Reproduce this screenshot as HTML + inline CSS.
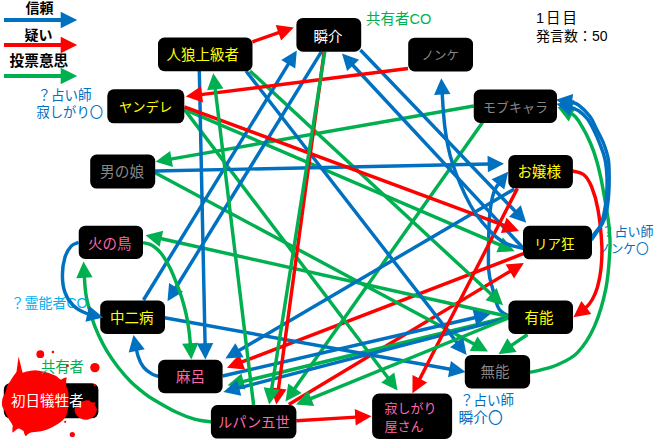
<!DOCTYPE html>
<html lang="ja"><head><meta charset="utf-8"><title>1日目 関係図（信頼・疑い・投票意思）</title>
<style>html,body{margin:0;padding:0;background:#fff;font-family:"Liberation Sans",sans-serif}body{width:660px;height:441px;overflow:hidden}svg text{font-family:"Liberation Sans","Noto Sans CJK JP",sans-serif}</style>
</head><body>
<svg width="660" height="441" viewBox="0 0 660 441" style="display:block" role="img" aria-label="人狼ゲーム1日目の関係図: 信頼(青) 疑い(赤) 投票意思(緑) 発言数50">
<rect width="660" height="441" fill="#fff"/>
<text x="25.5" y="13" font-size="14" font-weight="bold" fill="#000">信頼</text>
<text x="24.5" y="39.5" font-size="14" font-weight="bold" fill="#000">疑い</text>
<text x="9.5" y="66" font-size="14.7" font-weight="bold" fill="#000">投票意思</text>
<text x="37.5" y="100" font-size="13.5" fill="#0070C0">？占い師</text>
<text x="36.5" y="117" font-size="13.3" fill="#0070C0">寂しがり〇</text>
<text x="601.5" y="235.8" font-size="13" fill="#0070C0">？占い師</text>
<text x="598" y="253" font-size="12.7" fill="#0070C0">ノンケ〇</text>
<text x="460" y="404.8" font-size="13.5" fill="#0070C0">？占い師</text>
<text x="458.5" y="422.5" font-size="14.7" fill="#0070C0">瞬介〇</text>
<text x="366" y="24" font-size="14.5" fill="#00B050">共有者CO</text>
<text x="536" y="23" font-size="14.5" letter-spacing="2" fill="#000">1日目</text>
<text x="536" y="41" font-size="14" fill="#000">発言数：50</text>
<line x1="4" y1="20" x2="61.7" y2="20" stroke="#0070C0" stroke-width="4"/>
<polygon points="77.2,20 60.7,28.25 60.7,11.75" fill="#0070C0"/>
<line x1="4" y1="45" x2="61.7" y2="45" stroke="#FF0000" stroke-width="4"/>
<polygon points="77.2,45 60.7,53.25 60.7,36.75" fill="#FF0000"/>
<line x1="4" y1="76" x2="61.7" y2="76" stroke="#00B050" stroke-width="4"/>
<polygon points="77.2,76 60.7,84.25 60.7,67.75" fill="#00B050"/>
<path d="M508.5,316 C506.88,314.77 501.38,312.93 498.8,308.6 C496.22,304.27 494.68,296.43 493,290 C491.32,283.57 489.4,279.57 488.7,270 C488,260.43 488.52,242.8 488.8,232.6 C489.08,222.4 489.37,216 490.4,208.8 C491.43,201.6 492.03,195.57 495,189.4 C495.85,187.62 497.13,185.66 498.56,183.68" fill="none" stroke="#0070C0" stroke-width="3.45"/>
<polygon points="508.2,171.8 504.3,189.62 491.56,179.29" fill="#0070C0"/>
<line x1="523.3" y1="253.7" x2="241.28" y2="362.21" stroke="#FF0000" stroke-width="3.45"/>
<polygon points="227,367.7 239.27,354.19 245.16,369.5" fill="#FF0000"/>
<line x1="288.8" y1="404.6" x2="510.7" y2="270.9" stroke="#FF0000" stroke-width="3.45"/>
<polygon points="523.8,263 514.07,278.44 505.61,264.39" fill="#FF0000"/>
<line x1="184.4" y1="109.4" x2="500.54" y2="245.16" stroke="#00B050" stroke-width="3.45"/>
<polygon points="514.6,251.2 496.39,252.3 502.86,237.23" fill="#00B050"/>
<line x1="184.4" y1="109.4" x2="388.35" y2="378.31" stroke="#00B050" stroke-width="3.45"/>
<polygon points="397.6,390.5 381.22,382.47 394.28,372.56" fill="#00B050"/>
<line x1="473.75" y1="106" x2="170.57" y2="159.16" stroke="#00B050" stroke-width="3.45"/>
<polygon points="155.5,161.8 170.14,150.91 172.97,167.06" fill="#00B050"/>
<line x1="482.5" y1="122.5" x2="294.33" y2="389" stroke="#00B050" stroke-width="3.45"/>
<polygon points="285.5,401.5 288.2,383.46 301.6,392.91" fill="#00B050"/>
<line x1="250" y1="71" x2="491.77" y2="294.81" stroke="#00B050" stroke-width="3.45"/>
<polygon points="503,305.2 485.47,300.14 496.61,288.11" fill="#00B050"/>
<line x1="155.1" y1="172.7" x2="474.52" y2="344.26" stroke="#00B050" stroke-width="3.45"/>
<polygon points="488,351.5 469.76,351.01 477.52,336.56" fill="#00B050"/>
<line x1="508.5" y1="317" x2="242.47" y2="381.69" stroke="#00B050" stroke-width="3.45"/>
<polygon points="227.6,385.3 241.5,373.48 245.38,389.42" fill="#00B050"/>
<line x1="508.5" y1="316.5" x2="160.43" y2="238.54" stroke="#00B050" stroke-width="3.45"/>
<polygon points="145.5,235.2 163.2,230.76 159.61,246.76" fill="#00B050"/>
<line x1="527.5" y1="334.5" x2="511.14" y2="345.67" stroke="#00B050" stroke-width="3.45"/>
<polygon points="498.5,354.3 507.34,338.34 516.59,351.88" fill="#00B050"/>
<line x1="143.5" y1="300" x2="288.79" y2="63.44" stroke="#0070C0" stroke-width="3.45"/>
<polygon points="296.8,50.4 295.26,68.58 281.28,60" fill="#0070C0"/>
<line x1="321.5" y1="51.7" x2="175.53" y2="288.28" stroke="#0070C0" stroke-width="3.45"/>
<polygon points="167.5,301.3 169.08,283.12 183.04,291.73" fill="#0070C0"/>
<line x1="199.3" y1="71" x2="205.08" y2="344.2" stroke="#0070C0" stroke-width="3.45"/>
<polygon points="205.4,359.5 196.86,343.38 213.25,343.03" fill="#0070C0"/>
<line x1="246" y1="71" x2="457.21" y2="342.92" stroke="#0070C0" stroke-width="3.45"/>
<polygon points="466.6,355 450.13,347.16 463.08,337.1" fill="#0070C0"/>
<line x1="360.4" y1="50" x2="515.61" y2="211.76" stroke="#0070C0" stroke-width="3.45"/>
<polygon points="526.2,222.8 509,216.72 520.83,205.36" fill="#0070C0"/>
<line x1="523.5" y1="248.5" x2="352.42" y2="64.7" stroke="#0070C0" stroke-width="3.45"/>
<polygon points="342,53.5 359.11,59.84 347.1,71.02" fill="#0070C0"/>
<line x1="155.1" y1="171" x2="488.7" y2="164.02" stroke="#0070C0" stroke-width="3.45"/>
<polygon points="504,163.7 487.88,172.24 487.53,155.84" fill="#0070C0"/>
<line x1="514.4" y1="188.9" x2="238.6" y2="350.76" stroke="#0070C0" stroke-width="3.45"/>
<polygon points="225.4,358.5 235.31,343.18 243.61,357.32" fill="#0070C0"/>
<line x1="222.6" y1="376" x2="475.49" y2="317.45" stroke="#0070C0" stroke-width="3.45"/>
<polygon points="490.4,314 476.37,325.67 472.67,309.69" fill="#0070C0"/>
<line x1="508.5" y1="317.8" x2="238.21" y2="388.15" stroke="#0070C0" stroke-width="3.45"/>
<polygon points="223.4,392 237.11,379.96 241.24,395.83" fill="#0070C0"/>
<line x1="164.5" y1="317.8" x2="450.44" y2="369.29" stroke="#0070C0" stroke-width="3.45"/>
<polygon points="465.5,372 448,377.18 450.91,361.04" fill="#0070C0"/>
<line x1="252.5" y1="41.8" x2="279.35" y2="32.44" stroke="#FF0000" stroke-width="3.45"/>
<polygon points="293.8,27.4 281.11,40.51 275.71,25.02" fill="#FF0000"/>
<line x1="408" y1="68.5" x2="200.98" y2="94.59" stroke="#FF0000" stroke-width="3.45"/>
<polygon points="185.8,96.5 200.95,86.33 203,102.6" fill="#FF0000"/>
<line x1="184.4" y1="106.8" x2="504.66" y2="225.68" stroke="#FF0000" stroke-width="3.45"/>
<polygon points="519,231 500.87,233.02 506.57,217.64" fill="#FF0000"/>
<line x1="324.2" y1="51.7" x2="278.36" y2="389.44" stroke="#FF0000" stroke-width="3.45"/>
<polygon points="276.3,404.6 270.37,387.35 286.62,389.55" fill="#FF0000"/>
<line x1="324.8" y1="51.7" x2="271.58" y2="389.49" stroke="#00B050" stroke-width="3.45"/>
<polygon points="269.2,404.6 263.64,387.22 279.84,389.77" fill="#00B050"/>
<line x1="517.4" y1="188.4" x2="419.38" y2="379.68" stroke="#FF0000" stroke-width="3.45"/>
<polygon points="412.4,393.3 412.54,375.05 427.13,382.53" fill="#FF0000"/>
<line x1="296.3" y1="420.8" x2="356.23" y2="417.13" stroke="#FF0000" stroke-width="3.45"/>
<polygon points="371.5,416.2 355.73,425.38 354.73,409.01" fill="#FF0000"/>
<line x1="508.5" y1="318" x2="310.17" y2="398.83" stroke="#00B050" stroke-width="3.45"/>
<polygon points="296,404.6 308,390.85 314.19,406.04" fill="#00B050"/>
<line x1="253.6" y1="405" x2="215.14" y2="88.39" stroke="#00B050" stroke-width="3.45"/>
<polygon points="213.3,73.2 223.41,88.39 207.13,90.37" fill="#00B050"/>
<path d="M158.5,376.3 C157.52,375.98 155.1,375.92 152.6,374.4 C150.1,372.88 145.92,370.22 143.5,367.2 C141.08,364.18 139.77,361.67 138.1,356.3 C137.6,354.69 137.05,352.45 136.52,350" fill="none" stroke="#0070C0" stroke-width="3.45"/>
<polygon points="133.5,335 144.75,349.36 128.67,352.6" fill="#0070C0"/>
<path d="M143,242.6 C144.08,242.87 147.45,243.35 149.5,244.2 C151.55,245.05 153.42,246.23 155.3,247.7 C157.18,249.17 159.1,250.97 160.8,253 C162.5,255.03 163.83,257.15 165.5,259.9 C167.17,262.65 169.18,266.15 170.8,269.5 C172.42,272.85 173.42,275.42 175.2,280 C176.98,284.58 179.7,291.42 181.5,297 C183.3,302.58 184.78,308.17 186,313.5 C187.22,318.83 188.08,323.95 188.8,329 C189.52,334.05 189.88,338.72 190.3,343.8 C190.31,343.94 190.32,344.08 190.33,344.23" fill="none" stroke="#00B050" stroke-width="3.45"/>
<polygon points="191.3,359.5 182.09,343.75 198.46,342.72" fill="#00B050"/>
<path d="M211.5,421.9 C208.8,421.48 201.22,421.05 195.3,419.4 C189.38,417.75 183.12,415.42 176,412 C168.88,408.58 158.02,402.13 152.6,398.9 C147.18,395.67 147.13,395.47 143.5,392.6 C139.87,389.73 135.03,385.93 130.8,381.7 C126.57,377.47 122.1,372.33 118.1,367.2 C114.1,362.07 110.1,356.35 106.8,350.9 C103.5,345.45 100.67,339.65 98.3,334.5 C95.93,329.35 94.65,326.62 92.6,320 C90.55,313.38 87.52,304.55 86,294.8 C85.25,289.98 84.73,283.13 84.35,276.78" fill="none" stroke="#00B050" stroke-width="3.45"/>
<polygon points="83.5,261.5 92.59,277.32 76.22,278.23" fill="#00B050"/>
<path d="M523.5,248.5 C520.42,247.58 510.75,246.08 505,243 C499.25,239.92 494.78,236.33 489,230 C483.22,223.67 476.43,216.25 470.3,205 C464.17,193.75 456.43,175.42 452.2,162.5 C447.97,149.58 446.72,141.53 444.9,127.5 C443.76,118.68 442.87,104.74 442.21,93.57" fill="none" stroke="#0070C0" stroke-width="3.45"/>
<polygon points="441.3,78.3 450.46,94.08 434.09,95.06" fill="#0070C0"/>
<path d="M572.5,171 C574.33,171.58 580.33,171.92 583.5,174.5 C586.67,177.08 589.08,180.65 591.5,186.5 C593.92,192.35 596.28,199.85 598,209.6 C599.72,219.35 601.3,235.18 601.8,245 C602.3,254.82 601.72,261.5 601,268.5 C600.28,275.5 598.95,281.83 597.5,287 C596.05,292.17 594.22,296.07 592.3,299.5 C590.38,302.93 589.15,304.63 586,307.6 C585.86,307.73 585.71,307.87 585.56,308.01" fill="none" stroke="#FF0000" stroke-width="3.45"/>
<polygon points="573.4,317.3 581.37,300.89 591.33,313.92" fill="#FF0000"/>
<path d="M530,372.3 C531.83,371.88 536.42,371.05 541,369.8 C545.58,368.55 551.42,367.67 557.5,364.8 C563.58,361.93 571.35,359 577.5,352.6 C583.65,346.2 589.65,337.2 594.4,326.4 C599.15,315.6 603.42,300.65 606,287.8 C608.58,274.95 609.35,258.93 609.9,249.3 C610.45,239.67 609.7,235.72 609.3,230 C608.9,224.28 608.35,220.72 607.5,215 C606.65,209.28 605.32,201.93 604.2,195.7 C603.08,189.47 602.12,183.65 600.8,177.6 C599.48,171.55 598,165.08 596.3,159.4 C594.6,153.72 592.87,148.78 590.6,143.5 C588.33,138.22 585.53,132.42 582.7,127.7 C579.87,122.98 577.8,118.63 573.6,115.2 C572.95,114.67 572.18,114.14 571.34,113.63" fill="none" stroke="#00B050" stroke-width="3.45"/>
<polygon points="557.5,107.1 575.74,106.63 568.75,121.47" fill="#00B050"/>
<path d="M591.4,240 C592.88,237.67 598.15,230.67 600.3,226 C602.45,221.33 603.25,217.05 604.3,212 C605.35,206.95 606.15,201.43 606.6,195.7 C607.05,189.97 607.27,183.65 607,177.6 C606.73,171.55 606.22,165.08 605,159.4 C603.78,153.72 601.53,148.32 599.7,143.5 C597.87,138.68 596.03,134.58 594,130.5 C591.97,126.42 590,122.25 587.5,119 C585,115.75 581.58,112.83 579,111 C576.42,109.17 575.78,109.22 572,108 C571.72,107.91 571.4,107.81 571.07,107.71" fill="none" stroke="#0070C0" stroke-width="3.45"/>
<polygon points="556.3,103.7 574.18,100.06 569.88,115.88" fill="#0070C0"/>
<path d="M591.4,237.2 C593.23,234.92 599.9,227.7 602.4,223.5 C604.9,219.3 605.37,216.63 606.4,212 C607.43,207.37 608.13,201.43 608.6,195.7 C609.07,189.97 609.25,183.65 609.2,177.6 C609.15,171.55 609.23,165.08 608.3,159.4 C607.37,153.72 605.57,148.57 603.6,143.5 C601.63,138.43 598.77,133.5 596.5,129 C594.23,124.5 592.92,120.43 590,116.5 C587.08,112.57 582.07,107.78 579,105.4 C575.93,103.02 575.47,103.15 571.6,102.2 C571.39,102.15 571.16,102.1 570.92,102.04" fill="none" stroke="#0070C0" stroke-width="3.45"/>
<polygon points="555.8,99.7 573.16,94.09 570.65,110.3" fill="#0070C0"/>
<text x="10.5" y="308" font-size="14" fill="#00B0F0">？霊能者CO</text>
<rect x="158" y="37.5" width="94.5" height="33.75" rx="6.5" ry="6.5" fill="#000"/>
<rect x="296.4" y="17.9" width="64.8" height="33.8" rx="6.5" ry="6.5" fill="#000"/>
<rect x="408.2" y="37.7" width="64.8" height="33.7" rx="6.5" ry="6.5" fill="#000"/>
<rect x="107.3" y="89.3" width="77" height="34" rx="6.5" ry="6.5" fill="#000"/>
<rect x="473.75" y="89.5" width="83.25" height="33.5" rx="6.5" ry="6.5" fill="#000"/>
<rect x="90.2" y="154.6" width="65" height="34" rx="6.5" ry="6.5" fill="#000"/>
<rect x="508.3" y="154.9" width="64.6" height="33.4" rx="6.5" ry="6.5" fill="#000"/>
<rect x="78.75" y="225.7" width="64.25" height="33.3" rx="6.5" ry="6.5" fill="#000"/>
<rect x="523" y="225.8" width="69" height="33.5" rx="6.5" ry="6.5" fill="#000"/>
<rect x="100.2" y="300.5" width="64.8" height="33.5" rx="6.5" ry="6.5" fill="#000"/>
<rect x="508.4" y="300.5" width="64.6" height="33.5" rx="6.5" ry="6.5" fill="#000"/>
<rect x="158.1" y="359.8" width="64.5" height="33.4" rx="6.5" ry="6.5" fill="#000"/>
<rect x="464.8" y="354.9" width="65.3" height="33.6" rx="6.5" ry="6.5" fill="#000"/>
<rect x="210.9" y="405" width="85.5" height="33.6" rx="6.5" ry="6.5" fill="#000"/>
<rect x="3.8" y="383.2" width="94.6" height="35.1" rx="6.5" ry="6.5" fill="#000"/>
<rect x="372.1" y="393.6" width="80" height="45.4" rx="7" ry="7" fill="#000"/>
<path d="M78.7,242.4 C77.45,243.03 73.5,243.7 71.2,246.2 C68.9,248.7 66.37,252.62 64.9,257.4 C63.43,262.18 62.4,269.08 62.4,274.9 C62.4,280.72 63.13,287.23 64.9,292.3 C66.67,297.37 69.57,301.85 73,305.3 C76.43,308.75 80.47,310.98 85.5,313 C86.32,313.33 87.27,313.65 88.29,313.96" fill="none" stroke="#0070C0" stroke-width="3.45"/>
<polygon points="103.2,317.4 85.47,321.72 89.16,305.74" fill="#0070C0"/>
<text x="166.5" y="60" font-size="14.5" fill="#FFFF00">人狼上級者</text>
<text x="313.5" y="41.5" font-size="14.5" fill="#FFFFFF">瞬介</text>
<text x="421.5" y="60" font-size="12.5" fill="#868686">ノンケ</text>
<text x="119" y="112" font-size="13.3" fill="#FFFF00">ヤンデレ</text>
<text x="483" y="112" font-size="13" fill="#868686">モブキャラ</text>
<text x="100" y="177" font-size="14.7" fill="#868686">男の娘</text>
<text x="517.5" y="177" font-size="14.5" fill="#FFFF00">お嬢様</text>
<text x="88" y="248.5" font-size="14.5" fill="#FF66AA">火の鳥</text>
<text x="534" y="248.5" font-size="13.5" fill="#FFFF00">リア狂</text>
<text x="110" y="323" font-size="14.5" fill="#FFFF00">中二病</text>
<text x="524.5" y="323" font-size="14.5" fill="#FFFF00">有能</text>
<text x="176" y="382" font-size="14.5" fill="#FF66AA">麻呂</text>
<text x="480.5" y="377" font-size="14.5" fill="#868686">無能</text>
<text x="218" y="427" font-size="14.2" fill="#FF66AA">ルパン五世</text>
<text x="384.5" y="413" font-size="13" fill="#FF66AA">寂しがり</text>
<text x="384.5" y="430.5" font-size="13" fill="#FF66AA">屋さん</text>
<g fill="#FF0000">
<path d="M22.3,372.7 C23.54,372.7 25.11,371.93 26.8,371.6 C28.49,371.27 32.8,370.2 35,370.2 C37.2,370.2 41.23,371.13 43.3,371.6 C45.37,372.07 48.85,373.14 50.5,373.7 C52.15,374.26 54.37,375.03 55.7,375.8 C57.03,376.57 59.46,379.18 60.5,379.5 C61.54,379.82 62.7,378.45 63.5,378.2 C64.3,377.95 66.14,377.16 66.5,377.6 C66.86,378.04 66.23,380.37 66.2,381.5 C66.17,382.63 66.02,384.7 66.3,386.1 C66.58,387.5 67.99,390.28 68.3,392 C68.61,393.72 68.61,396.91 68.6,399 C68.59,401.09 68.55,405.43 68.2,407.7 C67.85,409.97 66.84,414.21 66,416 C65.16,417.79 63.27,419.86 61.9,421.1 C60.53,422.34 57.63,424.19 55.7,425.3 C53.77,426.41 49.6,428.59 47.4,429.4 C45.2,430.21 41.4,430.99 39.2,431.4 C37,431.81 32.46,432.09 30.9,432.5 C29.34,432.91 28.18,434.01 27.5,434.5 C26.82,434.99 26.24,436.33 25.8,436.2 C25.36,436.07 24.55,434.22 24.2,433.5 C23.85,432.78 23.95,431.48 23.2,430.8 C22.45,430.12 19.69,428.4 18.6,428.4 C17.51,428.4 15.8,430.24 15,430.8 C14.2,431.36 12.95,432.91 12.6,432.6 C12.25,432.29 12.4,429.47 12.4,428.5 C12.4,427.53 13.16,426.7 12.6,425.3 C12.04,423.9 9.19,419.79 8.2,418 C7.21,416.21 6.01,413.54 5.2,411.9 C4.39,410.26 2.46,407.49 2.1,405.7 C1.74,403.91 2.03,400.33 2.5,398.5 C2.97,396.67 4.97,393.67 5.6,392 C6.23,390.33 6.57,387.48 7.2,386 C7.83,384.52 9.34,382.41 10.3,380.9 C11.26,379.39 13.44,375.94 14.4,374.7 C15.36,373.46 16.45,371.87 17.5,371.6 C18.55,371.33 21.06,372.7 22.3,372.7Z"/>
</g>
<text x="41" y="372" font-size="14.3" fill="#00B050">共有者</text>
<g fill="#FF0000">
<path d="M15.8,377 L18.6,356.5 L23,374.5Z"/>
<path d="M85.5,400.6 C86.43,400.44 88.13,400.16 89,400.4 C89.87,400.64 91.15,402.12 92,402.4 C92.85,402.68 95.05,402.13 95.4,402.5 C95.75,402.87 94.43,404.4 94.6,405.2 C94.77,406 96.47,407.53 96.7,408.5 C96.93,409.47 96.63,411.5 96.3,412.5 C95.97,413.5 94.96,415.19 94.2,416 C93.44,416.81 91.49,418.09 90.6,418.6 C89.71,419.11 88.45,419.67 87.5,419.8 C86.55,419.93 84.57,419.87 83.5,419.6 C82.43,419.33 80.46,418.44 79.5,417.8 C78.54,417.16 76.95,415.77 76.3,414.8 C75.65,413.83 74.69,411.7 74.6,410.5 C74.51,409.3 75.08,406.83 75.6,405.8 C76.12,404.77 77.65,403.36 78.5,402.8 C79.35,402.24 81.07,401.89 82,401.6 C82.93,401.31 84.57,400.76 85.5,400.6Z"/>
<circle cx="40.3" cy="354.2" r="3.9"/>
<circle cx="52.9" cy="352" r="1.3"/>
<circle cx="94.9" cy="367.6" r="4.7"/>
<circle cx="72.3" cy="434.5" r="2.6"/>
<circle cx="67.5" cy="365.7" r="1.4"/>
<circle cx="65.2" cy="421.8" r="1.1"/>
<circle cx="94.7" cy="385.2" r="1.1"/>
</g>
<text x="11" y="406" font-size="14.5" fill="#FFFFFF">初日犠牲者</text>
</svg>
</body></html>
